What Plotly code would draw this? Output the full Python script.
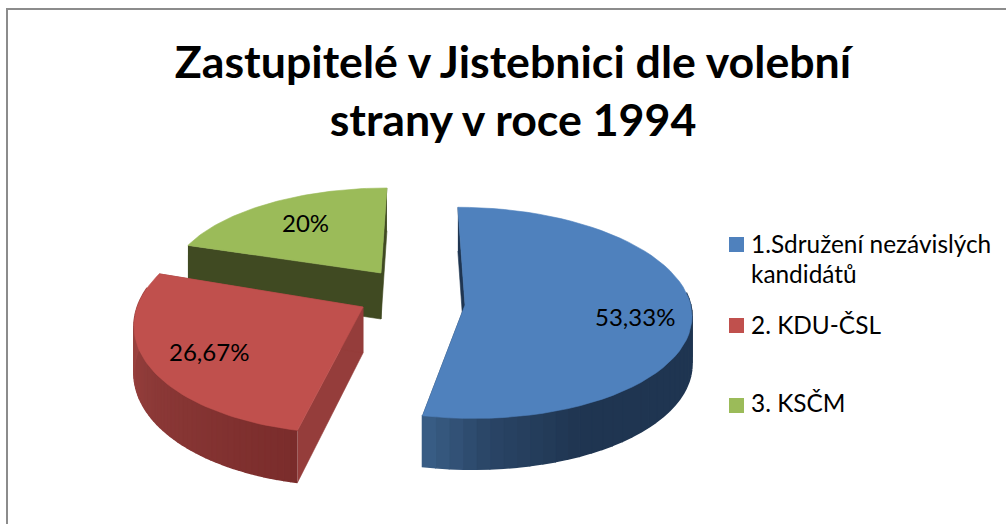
"""Zastupitelé v Jistebnici: exploded 3D-look pie, wedge outlines computed from the shares."""
import numpy as np
import plotly.graph_objects as go

TITLE = "Zastupitelé v Jistebnici dle volební<br>strany v roce 1994"
PARTIES = ["1.Sdružení nezávislých", "2. KDU-ČSL", "3. KSČM"]
LEGEND_EXTRA = "kandidátů"
SHARES = [53.33, 26.67, 20.0]
SHARE_LABELS = ["53,33%", "26,67%", "20%"]

FONT = "Lato, Carlito, Calibri, sans-serif"
TOP_COLORS = ["#4f81bd", "#c0504d", "#9bbb59"]
FACE_COLORS = ["#1f3551", "#953d3b", "#404a22"]
# wall gradient along the arc (start of slice -> end of slice)
WALL_STOPS = [
    [(0.0, "#1f3551"), (0.8, "#1f3551"), (0.92, "#2a4566"), (1.0, "#3a5f87")],
    [(0.0, "#7a2c2b"), (0.5, "#8d3a38"), (1.0, "#a54845")],
    [(0.0, "#404a22"), (1.0, "#404a22")],
]

# slice layout in page pixels: apex, x scale, y scale, perspective, wall depth
APEX = [(465, 305), (363, 307), (381, 273)]
SCALE_X = [0.99, 0.99, 0.92]
SCALE_Y = [1.0, 1.06, 0.87]
PERSP = [0.0744, 0.12, 0.0744]
DEPTH = [47, 46, 46]
RX, RY = 228, 105
SHEAR_K, SHEAR_X0 = 0.0017, 422
LABEL_POS = [(635, 316), (209, 351), (305, 222)]
KEY_X, TEXT_X = 736.5, 749
KEY_Y = [244.5, 325.5, 405.5]
TEXT_Y = [243, 324, 402]


def hex_rgb(c):
    return np.array([int(c[i:i + 2], 16) for i in (1, 3, 5)], float)


def wall_color(stops, t):
    for (t0, c0), (t1, c1) in zip(stops, stops[1:]):
        if t <= t1:
            f = (t - t0) / (t1 - t0)
            r, g, b = hex_rgb(c0) + (hex_rgb(c1) - hex_rgb(c0)) * f
            return f"rgb({r:.0f},{g:.0f},{b:.0f})"
    return stops[-1][1]


def rim(i, deg):
    """Screen position of the disc rim of slice i at a clockwise angle from 12 o'clock."""
    a = np.radians(deg)
    w = 1 + PERSP[i] * np.cos(a)
    dx = SCALE_X[i] * RX * np.sin(a) / w
    dy = -SCALE_Y[i] * RY * np.cos(a) / w
    sh = SHEAR_K * (APEX[i][0] - SHEAR_X0)
    return APEX[i][0] + dx + sh * dy, APEX[i][1] + dy, DEPTH[i] / w


def poly(xs, ys, color, width=0.6):
    return go.Scatter(x=list(xs), y=list(ys), mode="lines", fill="toself", fillcolor=color,
                      line=dict(color=color, width=width), hoverinfo="skip", showlegend=False)


fig = go.Figure()
edges = np.concatenate([[0], np.cumsum(SHARES)]) / sum(SHARES) * 360

# back slice first so the nearer ones cover it
for i in [2, 1, 0]:
    a0, a1 = edges[i], edges[i + 1]
    ax, ay = APEX[i]
    angles = np.linspace(a0, a1, 61)
    x, y, d = rim(i, angles)
    # radial faces
    fig.add_trace(poly([x[0], ax, ax, x[0]], [y[0], ay, ay + DEPTH[i], y[0] + d[0]], FACE_COLORS[i]))
    fig.add_trace(poly([x[-1], ax, ax, x[-1]], [y[-1], ay, ay + DEPTH[i], y[-1] + d[-1]], FACE_COLORS[i]))
    # outer wall, one strip per step for the gradient; the far side of the rim stays hidden
    for k in range(len(angles) - 1):
        if np.cos(np.radians(angles[k])) > 0.15:
            continue
        col = wall_color(WALL_STOPS[i], (k + 0.5) / (len(angles) - 1))
        fig.add_trace(poly([x[k], x[k + 1], x[k + 1], x[k]],
                           [y[k], y[k + 1], y[k + 1] + d[k + 1], y[k] + d[k]], col, width=1.6))
    # top surface
    fig.add_trace(poly(np.r_[ax, x, ax], np.r_[ay, y, ay], TOP_COLORS[i]))
    fig.add_annotation(x=LABEL_POS[i][0], y=LABEL_POS[i][1], text=SHARE_LABELS[i], showarrow=False,
                       font=dict(family=FONT, size=24, color="#000000"))

# legend keys and labels
fig.add_trace(go.Scatter(x=[KEY_X] * 3, y=KEY_Y, mode="markers", hoverinfo="skip", showlegend=False,
                         marker=dict(symbol="square", size=15, color=TOP_COLORS)))
for name, ly in zip(PARTIES, TEXT_Y):
    fig.add_annotation(x=TEXT_X, y=ly, text=name, showarrow=False, xanchor="left",
                       font=dict(family=FONT, size=24.4, color="#000000"))
fig.add_annotation(x=TEXT_X, y=TEXT_Y[0] + 30, text=LEGEND_EXTRA, showarrow=False, xanchor="left",
                   font=dict(family=FONT, size=24.4, color="#000000"))

# chart frame, open at the right and bottom of the crop
fig.add_shape(type="line", xref="paper", yref="paper", x0=7 / 1006, x1=7 / 1006, y0=0, y1=1 - 9 / 524,
              line=dict(color="#8c8c8c", width=2))
fig.add_shape(type="line", xref="paper", yref="paper", x0=6 / 1006, x1=1, y0=1 - 9 / 524, y1=1 - 9 / 524,
              line=dict(color="#8c8c8c", width=2))

fig.update_xaxes(range=[0, 1006], visible=False, fixedrange=True)
fig.update_yaxes(range=[524, 0], visible=False, fixedrange=True)
fig.update_layout(
    title=dict(text=TITLE, x=513 / 1006, xanchor="center", y=1 - 78 / 524, yanchor="top",
               font=dict(family=FONT, size=44.7, color="#000000", weight="bold")),
    width=1006, height=524, margin=dict(l=0, r=0, t=0, b=0),
    paper_bgcolor="#ffffff", plot_bgcolor="#ffffff", showlegend=False,
)
# the page's default body margin would push the chart 8px off
fig.write_html("out.html", config=dict(displayModeBar=False),
               post_script="document.body.style.margin='0';")
